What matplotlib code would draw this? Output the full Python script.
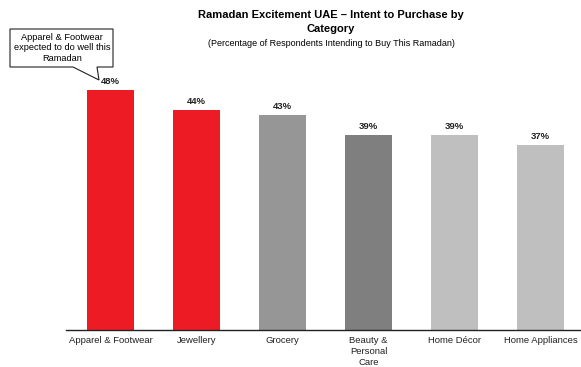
import matplotlib.pyplot as plt
from matplotlib.patches import Polygon

plt.rcParams['font.family'] = ['Liberation Sans', 'DejaVu Sans']

categories = ['Apparel & Footwear', 'Jewellery', 'Grocery',
              'Beauty &\nPersonal\nCare', 'Home Décor', 'Home Appliances']
values = [48, 44, 43, 39, 39, 37]
colors = ['#ED1C24', '#ED1C24', '#969696', '#7F7F7F', '#BFBFBF', '#BFBFBF']

W, H = 581, 367
fig = plt.figure(figsize=(W / 100, H / 100), dpi=100)


def px(x, y):
    # pixel coords (top-left origin) -> figure fraction
    return x / W, 1 - y / H


ax = fig.add_axes([67.5 / W, 1 - 330 / H, 516 / W, 300 / H])
xs = range(len(categories))
bars = ax.bar(xs, values, width=0.55, color=colors)
ax.set_xlim(-0.5, len(categories) - 0.5)
ax.set_ylim(0, 60)

for b, v in zip(bars, values):
    ax.annotate(f'{v}%', (b.get_x() + b.get_width() / 2, v),
                xytext=(0, 3), textcoords='offset points',
                ha='center', va='bottom', fontsize=6.8, fontweight='bold',
                color='#222222')

ax.set_xticks(list(xs))
ax.set_xticklabels(categories, fontsize=6.8, color='#222222', linespacing=1.35)
ax.tick_params(axis='x', length=0, pad=4)
ax.set_yticks([])
for s in ['top', 'right', 'left']:
    ax.spines[s].set_visible(False)
ax.spines['bottom'].set_color('#222222')
ax.spines['bottom'].set_linewidth(1.0)
ax.spines['bottom'].set_bounds(-0.52, len(categories) - 0.5)

# title
fig.text(*px(331, 15), 'Ramadan Excitement UAE \u2013 Intent to Purchase by',
         ha='center', va='center', fontsize=8, fontweight='bold')
fig.text(*px(331, 29), 'Category', ha='center', va='center',
         fontsize=8, fontweight='bold')
fig.text(*px(331, 43), '(Percentage of Respondents Intending to Buy This Ramadan)',
         ha='center', va='center', fontsize=6.5)

# callout
pts = [px(10, 29), px(113, 29), px(113, 67), px(97, 67), px(99, 80),
       px(73, 67), px(10, 67)]
fig.patches.append(Polygon(pts, closed=True, transform=fig.transFigure,
                           facecolor='white', edgecolor='#222222', linewidth=0.8))
fig.text(*px(62, 48), 'Apparel & Footwear\nexpected to do well this\nRamadan',
         ha='center', va='center', fontsize=6.7, linespacing=1.2)

fig.savefig('out.png', dpi=100)
